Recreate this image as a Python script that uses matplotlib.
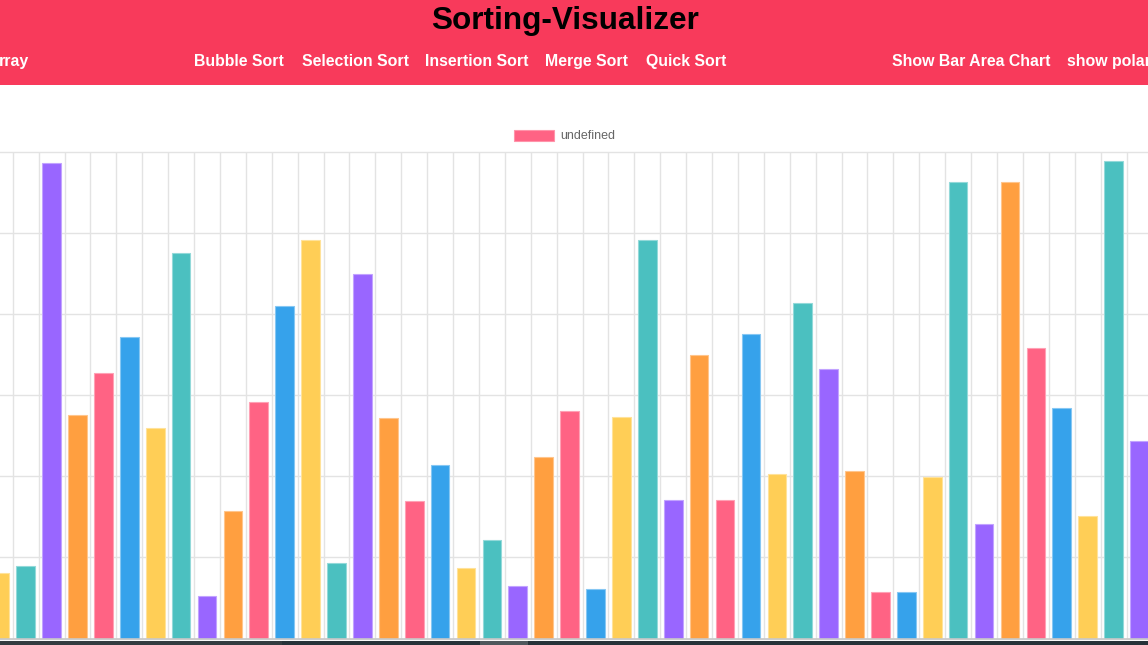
import numpy as np
import matplotlib.pyplot as plt
from matplotlib.patches import Rectangle, Patch
from matplotlib.colors import to_rgb

plt.rcParams['font.family'] = ['Liberation Sans', 'DejaVu Sans']

# 数据 (从截图读取, 网格每格 10)
values = [8.1, 9.0, 58.7, 27.6, 32.8, 37.2, 26.0, 47.5, 5.3, 15.7,
          29.2, 41.0, 49.1, 9.3, 44.9, 27.2, 17.0, 21.4, 8.7, 12.1,
          6.5, 22.4, 28.0, 6.1, 27.3, 49.2, 17.1, 35.0, 17.1, 37.6,
          20.3, 41.4, 33.2, 20.6, 5.7, 5.7, 19.9, 56.3, 14.1, 56.3,
          35.8, 28.4, 15.1, 58.9, 24.4]
palette = ['#FF6384', '#36A2EB', '#FFCE56', '#4BC0C0', '#9966FF', '#FF9F40']
nav_items = ['Bubble Sort', 'Selection Sort', 'Insertion Sort', 'Merge Sort', 'Quick Sort']
nav_x = [194, 302, 425, 545, 646]
right_items = ['Show Bar Area Chart', 'show polar']
right_x = [892, 1067]

W, H = 1148, 645

def fx(px):
    return px / W

def fy(py):
    return 1 - py / H

fig = plt.figure(figsize=(W / 100, H / 100), dpi=100)

# 顶部导航栏
fig.add_artist(Rectangle((0, fy(85)), 1, 85 / H, transform=fig.transFigure,
                         facecolor='#F83A5B', edgecolor='none', zorder=0))
fig.text(fx(565), fy(29), 'Sorting-Visualizer', ha='center', va='baseline',
         fontsize=22.7, fontweight='bold', color='black')
fig.text(fx(-1), fy(66), 'rray', ha='left', va='baseline',
         fontsize=11.4, fontweight='bold', color='white')
for name, x in zip(nav_items + right_items, nav_x + right_x):
    fig.text(fx(x), fy(66), name, ha='left', va='baseline',
             fontsize=11.4, fontweight='bold', color='white')

# 底部深色条
fig.add_artist(Rectangle((0, 0), 1, 4.5 / H, transform=fig.transFigure,
                         facecolor='#263238', edgecolor='none'))
fig.add_artist(Rectangle((0, 0), fx(282), 4.5 / H, transform=fig.transFigure,
                         facecolor='#333b3f', edgecolor='none'))
fig.add_artist(Rectangle((fx(480), 0), fx(48), 4.5 / H, transform=fig.transFigure,
                         facecolor='#4f585c', edgecolor='none'))

# 图表区域
ax = fig.add_axes([0, fy(638.5), 1, (638.5 - 152) / H])
x = np.arange(len(values))
colors = [palette[(i + 2) % 6] for i in range(len(values))]
edges = [tuple(0.6 * np.array(to_rgb(c)) + 0.4) for c in colors]
ax.bar(x, values, width=0.72, color=colors, edgecolor=edges, linewidth=0.8, zorder=2)

ax.set_yticks(np.arange(0, 61, 10))
ax.set_xticks(x - 0.5, minor=True)
ax.set_xticks([])
ax.set_xlim(0.008, 44.33)
ax.set_ylim(0, 60)
ax.grid(which='minor', axis='x', color='#e3e3e3', linewidth=1)
ax.grid(which='major', axis='y', color='#e3e3e3', linewidth=1)
ax.set_axisbelow(True)
ax.tick_params(which='both', length=0, labelleft=False, labelbottom=False)
for s in ['top', 'left', 'right']:
    ax.spines[s].set_visible(False)
ax.spines['bottom'].set_color('#c8c8c8')
ax.spines['bottom'].set_linewidth(1.2)
for gl in ax.get_ygridlines():
    gl.set_clip_on(False)

# 图例
fig.legend(handles=[Patch(facecolor=palette[0], edgecolor='#ff94aa', linewidth=0.8)],
           labels=['undefined'], loc='center', bbox_to_anchor=(fx(565), fy(136)),
           frameon=False, fontsize=9, handlelength=3.2, handleheight=0.96,
           handletextpad=0.5, labelcolor='#666666')

fig.savefig('out.png', dpi=100)
